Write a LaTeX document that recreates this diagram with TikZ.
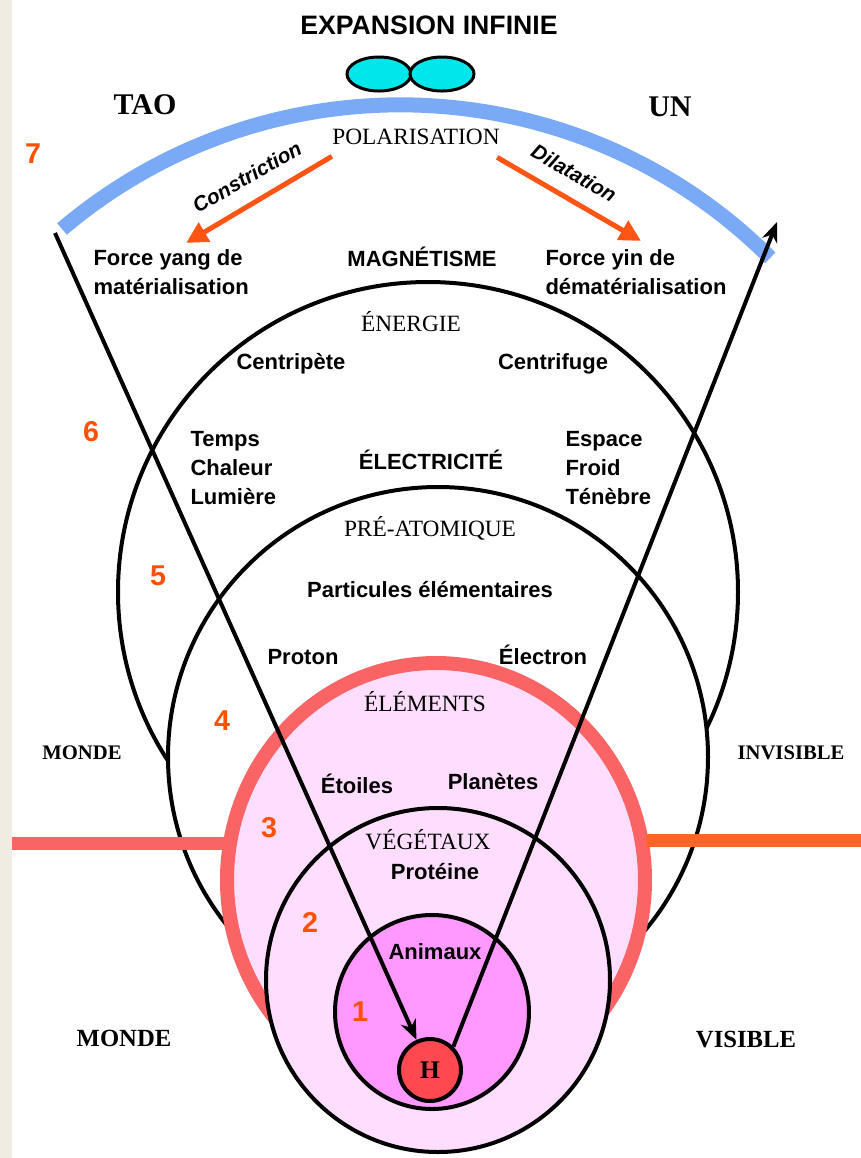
\documentclass[tikz,border=0pt]{standalone}
\usepackage{fontspec}
\setmainfont{Liberation Serif}
\setsansfont{Liberation Sans}
\usetikzlibrary{arrows.meta,calc}

\tikzset{every picture/.style={line width=0.75pt}}
\tikzset{
  ring/.style={draw={rgb, 255:red, 0; green, 0; blue, 0 }, line width=3pt},
  lbl/.style={font=\sffamily\bfseries\fontsize{16.5}{21.75}\selectfont, inner sep=0pt, align=left},
  layername/.style={font=\rmfamily\fontsize{17.5}{21}\selectfont, inner sep=0pt},
  num/.style={font=\sffamily\bfseries\fontsize{21.5}{24}\selectfont, color={rgb, 255:red, 255; green, 80; blue, 0 }, inner sep=0pt},
  world/.style={font=\rmfamily\bfseries\fontsize{15.5}{18}\selectfont, inner sep=0pt},
  bigworld/.style={font=\rmfamily\bfseries\fontsize{18.5}{22}\selectfont, inner sep=0pt},
  pointer/.style={line width=3pt, -{Stealth[length=15pt,width=12pt]}},
  flow/.style={draw={rgb, 255:red, 255; green, 85; blue, 20 }, line width=3.75pt, -{Triangle[length=16pt,width=16pt]}},
  bar/.style={line width=9.75pt},
}

\begin{document}
\begin{tikzpicture}[x=0.75pt,y=0.75pt,yscale=-1,xscale=1]
\useasboundingbox (0,0) rectangle (861,1158);

%Shape: Rectangle (margin strip)
\fill [color={rgb, 255:red, 240; green, 236; blue, 226 }] (0,0) rectangle (12,1158);

%Shape: Arc
\draw [draw={rgb, 255:red, 122; green, 170; blue, 245 }, line width=11.25pt] (62,229) arc [start angle=-130.3, end angle=-45.03, radius=523.2];

%Shape: Ellipse
\draw [ring, line width=2.25pt, fill={rgb, 255:red, 0; green, 230; blue, 235 }] (379,74) circle [x radius=32, y radius=17];
%Shape: Ellipse
\draw [ring, line width=2.25pt, fill={rgb, 255:red, 0; green, 230; blue, 235 }] (442,74) circle [x radius=32, y radius=17];

%Shape: Circle
\draw [ring, fill=white] (428,592) circle [radius=310];
%Shape: Circle
\draw [ring, fill=white] (438,757) circle [radius=270];
%Shape: Ellipse
\draw [draw={rgb, 255:red, 250; green, 100; blue, 100 }, line width=10.5pt, fill={rgb, 255:red, 255; green, 221; blue, 255 }] (436,880) circle [x radius=209, y radius=217];
%Shape: Circle
\draw [ring, fill={rgb, 255:red, 255; green, 221; blue, 255 }] (438,980) circle [radius=172];
%Shape: Circle
\draw [ring, fill={rgb, 255:red, 255; green, 153; blue, 255 }] (432,1012) circle [radius=97];

%Straight Lines
\draw [bar, draw={rgb, 255:red, 250; green, 100; blue, 100 }] (12,843) -- (226,843);
%Straight Lines
\draw [bar, draw={rgb, 255:red, 255; green, 100; blue, 40 }] (646,840) -- (861,840);

% Text Node
\draw (430,1070) node (H) [circle, ring, fill={rgb, 255:red, 255; green, 72; blue, 80 }, minimum size=46.5pt, inner sep=0pt, font=\rmfamily\bfseries\fontsize{19}{22}\selectfont] {H};

\coordinate (taoend) at (55,233);
\coordinate (unend) at (777,222);

%Straight Lines
\draw [pointer] (taoend) -- (H);
%Straight Lines
\draw [pointer] (H.north east) -- (unend);

% Text Node
\draw (429,25) node (expansion) [lbl, font=\sffamily\bfseries\fontsize{20}{24}\selectfont] {EXPANSION INFINIE};
% Text Node
\draw (145,105) node (tao) [inner sep=0pt, font=\rmfamily\bfseries\fontsize{22.5}{26}\selectfont] {TAO};
% Text Node
\draw (670,107) node (un) [inner sep=0pt, font=\rmfamily\bfseries\fontsize{22.5}{26}\selectfont] {UN};
% Text Node
\draw (416,137) node (polar) [layername] {POLARISATION};
% Text Node
\draw (247,177) node (constr) [lbl, rotate=30, font=\sffamily\bfseries\itshape\fontsize{15.5}{18}\selectfont] {Constriction};
% Text Node
\draw (574,173) node (dilat) [lbl, rotate=-30, font=\sffamily\bfseries\itshape\fontsize{15.5}{18}\selectfont] {Dilatation};
% Text Node
\draw (93,272) node (yang) [lbl, anchor=west] {Force yang de\\matérialisation};
% Text Node
\draw (422,257) node (magn) [lbl] {MAGNÉTISME};
% Text Node
\draw (545,272) node (yin) [lbl, anchor=west] {Force yin de\\dématérialisation};

%Straight Lines
\draw [flow] ($(polar.south west)+(0,11)$) -- ($(yang.north)+(15,-6)$);
%Straight Lines
\draw [flow] ($(polar.south east)+(-3,12)$) -- ($(yin.north)+(5,-8)$);

% Text Node
\draw (411,322) node (energie) [layername] {ÉNERGIE};
% Text Node
\draw (291,364) node (centripete) [lbl] {Centripète};
% Text Node
\draw (553,364) node (centrifuge) [lbl] {Centrifuge};
% Text Node
\draw (190,468) node (temps) [lbl, anchor=west] {Temps\\Chaleur\\Lumière};
% Text Node
\draw (431,460) node (electr) [lbl] {ÉLECTRICITÉ};
% Text Node
\draw (565,468) node (espace) [lbl, anchor=west] {Espace\\Froid\\Ténèbre};
% Text Node
\draw (430,528) node (preatom) [layername] {PRÉ-ATOMIQUE};
% Text Node
\draw (430,590) node (partic) [lbl] {Particules élémentaires};
% Text Node
\draw (303,657) node (proton) [lbl] {Proton};
% Text Node
\draw (543,655) node (electron) [lbl] {Électron};
% Text Node
\draw (425,702) node (elements) [layername] {ÉLÉMENTS};
% Text Node
\draw (82,753) node (mondeA) [world] {MONDE};
% Text Node
\draw (791,753) node (invisible) [world] {INVISIBLE};
% Text Node
\draw (357,784) node (etoiles) [lbl] {Étoiles};
% Text Node
\draw (493,782) node (planetes) [lbl] {Planètes};
% Text Node
\draw (428,840) node (vegetaux) [layername] {VÉGÉTAUX};
% Text Node
\draw (435,872) node (proteine) [lbl] {Protéine};
% Text Node
\draw (435,952) node (animaux) [lbl] {Animaux};
% Text Node
\draw (124,1038) node (mondeB) [bigworld] {MONDE};
% Text Node
\draw (746,1040) node (visible) [bigworld] {VISIBLE};

% Text Node
\draw (33,154) node (n7) [num] {7};
% Text Node
\draw (91,432) node (n6) [num] {6};
% Text Node
\draw (158,576) node (n5) [num] {5};
% Text Node
\draw (222,721) node (n4) [num] {4};
% Text Node
\draw (269,828) node (n3) [num] {3};
% Text Node
\draw (310,922) node (n2) [num] {2};
% Text Node
\draw (360,1012) node (n1) [num] {1};

\end{tikzpicture}
\end{document}
